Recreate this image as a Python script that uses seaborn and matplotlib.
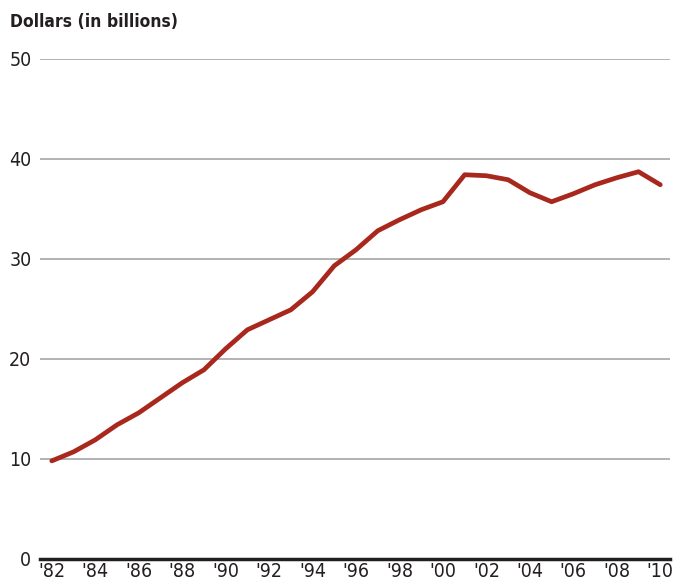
import pandas as pd
import seaborn as sns
import matplotlib.pyplot as plt
from matplotlib import font_manager

# Values
years = list(range(1982, 2011))
dollars = [9.8, 10.7, 11.9, 13.4, 14.6, 16.1, 17.6, 18.9, 21.0, 22.9,
           23.9, 24.9, 26.7, 29.3, 30.9, 32.8, 33.9, 34.9, 35.7, 38.4,
           38.3, 37.9, 36.6, 35.7, 36.5, 37.4, 38.1, 38.7, 37.4]
tick_years = list(range(1982, 2011, 2))
tick_labels = ["'" + str(y)[2:] for y in tick_years]
y_ticks = [0, 10, 20, 30, 40, 50]

df = pd.DataFrame({"Year": years, "Dollars": dollars})

sns.set_style("white")
plt.rcParams["font.family"] = ["DejaVu Sans"]


def narrow_font(bold):
    # look for a condensed / narrow face among installed fonts
    picks = []
    for f in font_manager.fontManager.ttflist:
        narrow = ("Narrow" in f.name or "Condensed" in f.name
                  or f.stretch in ("condensed", "semi-condensed", "extra-condensed"))
        if not narrow or f.style != "normal":
            continue
        w = f.weight if isinstance(f.weight, int) else (700 if f.weight == "bold" else 400)
        if bold and w >= 600 or not bold and 350 <= w <= 450:
            picks.append(f.fname)
    picks.sort()
    if picks:
        return font_manager.FontProperties(fname=picks[0])
    return font_manager.FontProperties(family="DejaVu Sans",
                                       stretch="condensed",
                                       weight="bold" if bold else "normal")


fp_reg = narrow_font(False)
fp_bold = narrow_font(True)

fig = plt.figure(figsize=(6.75, 5.81), dpi=100)
ax = fig.add_axes([0.059, 0.038, 0.934, 0.861])

sns.lineplot(data=df, x="Year", y="Dollars", ax=ax, color="#a8281e",
             linewidth=3.4, zorder=3)

ax.set_xlim(1981.45, 2010.46)
ax.set_ylim(0, 50)
ax.set_yticks(y_ticks)
ax.set_xticks(tick_years)
ax.set_xticklabels(tick_labels)
ax.yaxis.grid(True, color="#a6a6a6", linewidth=1.2)
ax.set_axisbelow(True)
for side in ["top", "right", "left"]:
    ax.spines[side].set_visible(False)
ax.spines["bottom"].set_color("#231f20")
ax.spines["bottom"].set_linewidth(2.5)
ax.spines["bottom"].set_zorder(4)
ax.tick_params(axis="both", length=0, colors="#231f20")
ax.tick_params(axis="y", pad=6)
ax.tick_params(axis="x", pad=2)
for lab in ax.get_xticklabels() + ax.get_yticklabels():
    lab.set_fontproperties(fp_reg)
    lab.set_fontsize(14)
ax.set_xlabel("")
ax.set_ylabel("")

fig.text(0.015, 0.962, "Dollars (in billions)", fontproperties=fp_bold,
         fontsize=12.5, color="#231f20", ha="left", va="center")

fig.savefig("out.png", dpi=100)
